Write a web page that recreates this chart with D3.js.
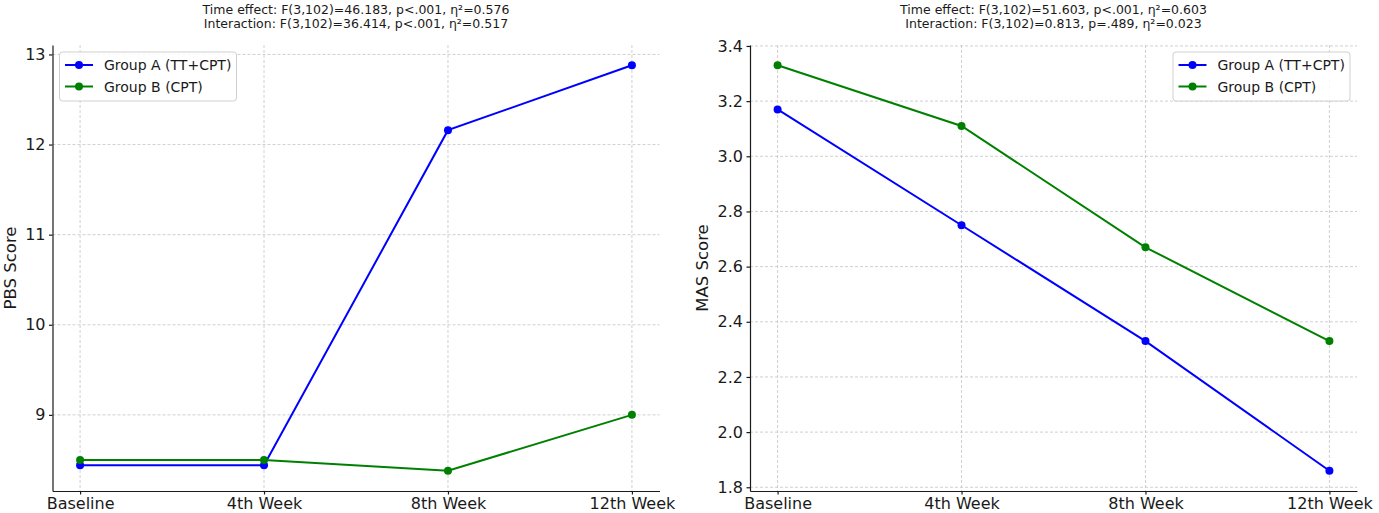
<!DOCTYPE html>
<html lang="en">
<head>
  <meta charset="UTF-8">
  <title>PBS and MAS scores over time</title>
  <style>
    body {
      margin: 0;
      padding: 0;
      background-color: #fff;
    }
    svg text {
      font-family: "DejaVu Sans", sans-serif;
      fill: #1a1a1a;
    }
    .grid line {
      stroke: #c4c4c4;
      stroke-width: 0.8;
      stroke-dasharray: 3,2;
    }
    .axis path, .axis line {
      stroke: #1a1a1a;
      stroke-width: 1.2;
    }
    .axis text {
      font-size: 16px;
    }
  </style>
</head>
<body>
  <svg id="chart"></svg>

  <script src="https://d3js.org/d3.v7.min.js"></script>
  <script>
    const width = 1379;
    const height = 513;

    // data
    const categories = ["Baseline", "4th Week", "8th Week", "12th Week"];
    const seriesNames = ["Group A (TT+CPT)", "Group B (CPT)"];
    const seriesColors = ["#0000ff", "#008000"];

    const pbsGroupA = [8.44, 8.44, 12.16, 12.88];
    const pbsGroupB = [8.50, 8.50, 8.38, 9.00];
    const pbsTicks = [9, 10, 11, 12, 13];
    const pbsStats = [
      "Time effect: F(3,102)=46.183, p<.001, η²=0.576",
      "Interaction: F(3,102)=36.414, p<.001, η²=0.517"
    ];

    const masGroupA = [3.17, 2.75, 2.33, 1.86];
    const masGroupB = [3.33, 3.11, 2.67, 2.33];
    const masTicks = [1.8, 2.0, 2.2, 2.4, 2.6, 2.8, 3.0, 3.2, 3.4];
    const masStats = [
      "Time effect: F(3,102)=51.603, p<.001, η²=0.603",
      "Interaction: F(3,102)=0.813, p=.489, η²=0.023"
    ];

    const svg = d3.select("#chart")
      .attr("width", width)
      .attr("height", height);

    const plotTop = 45, plotBottom = 491;

    function drawPanel(x0, x1, groups, ticks, fmt, yLabel, stats, legendSide) {
      const all = groups.flat();
      const [lo, hi] = d3.extent(all);
      const pad = (hi - lo) * 0.05;   // matplotlib style margins

      const x = d3.scalePoint().domain(categories).range([x0, x1]).padding(0.15);
      const y = d3.scaleLinear().domain([lo - pad, hi + pad]).range([plotBottom, plotTop]);

      const g = svg.append("g");

      // grid
      const grid = g.append("g").attr("class", "grid");
      grid.selectAll(".h").data(ticks).enter().append("line")
        .attr("x1", x0).attr("x2", x1)
        .attr("y1", d => y(d)).attr("y2", d => y(d));
      grid.selectAll(".v").data(categories).enter().append("line")
        .attr("x1", d => x(d)).attr("x2", d => x(d))
        .attr("y1", plotTop).attr("y2", plotBottom);

      // axes (left and bottom spines only)
      const yAxis = g.append("g")
        .attr("class", "axis")
        .attr("transform", `translate(${x0},0)`)
        .call(d3.axisLeft(y).tickValues(ticks).tickFormat(fmt).tickSize(3.5).tickSizeOuter(0).tickPadding(3.5));

      g.append("g")
        .attr("class", "axis")
        .attr("transform", `translate(0,${plotBottom})`)
        .call(d3.axisBottom(x).tickSize(3.5).tickSizeOuter(0).tickPadding(3.5));

      g.selectAll(".axis text").attr("fill", "#1a1a1a").style("fill", "#1a1a1a");

      // y label placed left of the tick labels
      const bb = yAxis.node().getBBox();
      const labelX = x0 + bb.x - 9.5;
      g.append("text")
        .attr("transform", `translate(${labelX},${(plotTop + plotBottom) / 2}) rotate(-90)`)
        .attr("text-anchor", "middle")
        .style("font-size", "16.5px")
        .text(yLabel);

      // title (stats)
      const cx = (x0 + x1) / 2;
      g.selectAll(".title").data(stats).enter().append("text")
        .attr("x", cx)
        .attr("y", (d, i) => 14 + i * 14)
        .attr("text-anchor", "middle")
        .style("font-size", "12.5px")
        .text(d => d);

      // lines and markers
      const line = d3.line()
        .x((d, i) => x(categories[i]))
        .y(d => y(d));

      groups.forEach((vals, k) => {
        g.append("path")
          .datum(vals)
          .attr("fill", "none")
          .attr("stroke", seriesColors[k])
          .attr("stroke-width", 2)
          .attr("d", line);
        g.selectAll(".dot" + k).data(vals).enter().append("circle")
          .attr("cx", (d, i) => x(categories[i]))
          .attr("cy", d => y(d))
          .attr("r", 4)
          .attr("fill", seriesColors[k]);
      });

      // legend
      const lw = 177, lh = 49;
      const lx = legendSide === "left" ? x0 + 7 : x1 - 7 - lw;
      const ly = plotTop + 7;
      const legend = g.append("g").attr("transform", `translate(${lx},${ly})`);
      legend.append("rect")
        .attr("width", lw).attr("height", lh)
        .attr("rx", 3)
        .attr("fill", "#fff").attr("fill-opacity", 0.85)
        .attr("stroke", "#d0d0d0");
      seriesNames.forEach((name, k) => {
        const ry = 13 + k * 21.5;
        legend.append("line")
          .attr("x1", 5.5).attr("x2", 33.5)
          .attr("y1", ry).attr("y2", ry)
          .attr("stroke", seriesColors[k]).attr("stroke-width", 2);
        legend.append("circle")
          .attr("cx", 19.5).attr("cy", ry).attr("r", 4)
          .attr("fill", seriesColors[k]);
        legend.append("text")
          .attr("x", 44.5).attr("y", ry)
          .attr("dy", "0.36em")
          .style("font-size", "14px")
          .text(name);
      });
    }

    drawPanel(52.5, 659.5, [pbsGroupA, pbsGroupB], pbsTicks, d3.format("d"), "PBS Score", pbsStats, "left");
    drawPanel(750, 1357, [masGroupA, masGroupB], masTicks, d3.format(".1f"), "MAS Score", masStats, "right");
  </script>
</body>
</html>
